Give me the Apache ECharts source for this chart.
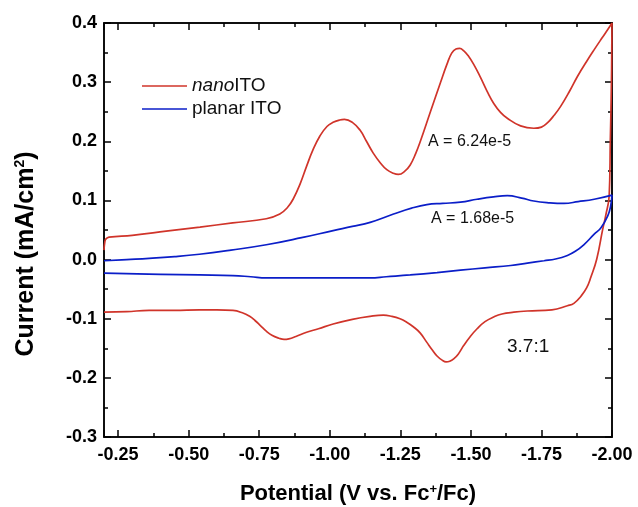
<!DOCTYPE html>
<html>
<head>
<meta charset="utf-8">
<script src="https://cdn.jsdelivr.net/npm/echarts/dist/echarts.min.js"></script>
<style>
  html, body { margin: 0; padding: 0; background: #fff; }
  #chart { width: 638px; height: 507px; }
</style>
</head>
<body>
<div id="chart"></div>
<script>
// nanoITO sweep, forward (upper) branch then return (lower) branch
var nanoFwd = [
  [-0.200, 0.016], [-0.203, 0.030], [-0.207, 0.035], [-0.218, 0.038], [-0.300, 0.041],
  [-0.420, 0.048], [-0.540, 0.055], [-0.656, 0.062], [-0.775, 0.069], [-0.823, 0.077],
  [-0.850, 0.088], [-0.870, 0.102], [-0.895, 0.128], [-0.918, 0.158], [-0.940, 0.185],
  [-0.965, 0.209], [-0.990, 0.225], [-1.012, 0.232], [-1.035, 0.236], [-1.052, 0.237],
  [-1.080, 0.232], [-1.107, 0.219], [-1.130, 0.200], [-1.154, 0.180], [-1.180, 0.163],
  [-1.202, 0.152], [-1.225, 0.146], [-1.243, 0.144], [-1.265, 0.149], [-1.285, 0.160],
  [-1.305, 0.180], [-1.321, 0.200], [-1.356, 0.249], [-1.392, 0.299], [-1.415, 0.330],
  [-1.432, 0.349], [-1.447, 0.356], [-1.460, 0.357], [-1.475, 0.353], [-1.490, 0.345],
  [-1.510, 0.330], [-1.534, 0.308], [-1.558, 0.284], [-1.581, 0.264], [-1.605, 0.249],
  [-1.629, 0.239], [-1.676, 0.226], [-1.723, 0.222], [-1.750, 0.224], [-1.771, 0.231],
  [-1.795, 0.244], [-1.818, 0.259], [-1.850, 0.285], [-1.878, 0.310], [-1.910, 0.335],
  [-1.937, 0.355], [-1.965, 0.375], [-1.985, 0.389], [-2.000, 0.400]
];
var nanoRev = [
  [-1.998, 0.300], [-1.994, 0.200], [-1.990, 0.108], [-1.978, 0.075], [-1.967, 0.051],
  [-1.946, 0.001], [-1.925, -0.030], [-1.910, -0.048], [-1.890, -0.062], [-1.865, -0.074],
  [-1.842, -0.078], [-1.787, -0.085], [-1.700, -0.087], [-1.652, -0.089], [-1.610, -0.092],
  [-1.581, -0.097], [-1.550, -0.105], [-1.522, -0.117], [-1.498, -0.130], [-1.475, -0.145],
  [-1.455, -0.160], [-1.439, -0.168], [-1.425, -0.172], [-1.412, -0.173], [-1.398, -0.170],
  [-1.380, -0.163], [-1.362, -0.152], [-1.344, -0.140], [-1.320, -0.124], [-1.297, -0.114],
  [-1.270, -0.105], [-1.249, -0.100], [-1.220, -0.096], [-1.190, -0.094], [-1.143, -0.096],
  [-1.080, -0.101], [-1.012, -0.109], [-0.960, -0.117], [-0.918, -0.123], [-0.880, -0.130],
  [-0.855, -0.134], [-0.838, -0.135], [-0.820, -0.133], [-0.795, -0.128], [-0.775, -0.121],
  [-0.755, -0.112], [-0.735, -0.103], [-0.716, -0.096], [-0.690, -0.090], [-0.657, -0.086],
  [-0.600, -0.085], [-0.538, -0.085], [-0.450, -0.086], [-0.360, -0.086], [-0.280, -0.088],
  [-0.200, -0.089]
];

// planar ITO sweep
var planarFwd = [
  [-0.200, -0.002], [-0.280, 0.000], [-0.360, 0.002], [-0.450, 0.005], [-0.538, 0.009],
  [-0.650, 0.016], [-0.775, 0.025], [-0.900, 0.037], [-1.012, 0.049], [-1.080, 0.056],
  [-1.143, 0.063], [-1.226, 0.077], [-1.290, 0.087], [-1.344, 0.093], [-1.400, 0.095],
  [-1.463, 0.097], [-1.522, 0.102], [-1.580, 0.106], [-1.629, 0.108], [-1.680, 0.104],
  [-1.723, 0.099], [-1.780, 0.096], [-1.830, 0.095], [-1.880, 0.098], [-1.937, 0.102],
  [-2.000, 0.109]
];
var planarRev = [
  [-1.995, 0.090], [-1.985, 0.074], [-1.961, 0.054], [-1.937, 0.043], [-1.900, 0.025],
  [-1.870, 0.014], [-1.842, 0.007], [-1.800, 0.001], [-1.759, -0.002], [-1.700, -0.006],
  [-1.641, -0.010], [-1.550, -0.014], [-1.463, -0.018], [-1.380, -0.022], [-1.285, -0.026],
  [-1.200, -0.029], [-1.143, -0.031], [-1.012, -0.031], [-0.900, -0.031], [-0.775, -0.031],
  [-0.720, -0.029], [-0.657, -0.027], [-0.538, -0.026], [-0.400, -0.025], [-0.200, -0.023]
];

var seriesNames = ['nanoITO', 'planar ITO'];
var notes = ['A = 6.24e-5', 'A = 1.68e-5', '3.7:1'];

var FONT = '"Liberation Sans", Arial, sans-serif';
var RED = '#d0342a';
var BLUE = '#0b1ec8';

var chart = echarts.init(document.getElementById('chart'));

// x axis: major ticks every 0.25 (labelled), minor every 0.125
function xAxisFor(position, interval, len, withLabels) {
  return {
    type: 'value',
    position: position,
    min: -2.0,
    max: -0.2,
    interval: interval,
    inverse: true,
    axisLine: { show: true, onZero: false, lineStyle: { color: '#000', width: 1.5 } },
    axisTick: { show: true, inside: true, length: len, lineStyle: { color: '#000', width: 1.5 } },
    axisLabel: {
      show: withLabels,
      margin: 9,
      color: '#000',
      fontFamily: FONT,
      fontWeight: 'bold',
      fontSize: 18,
      showMinLabel: true,
      showMaxLabel: true,
      formatter: function (v) {
        return Math.abs(v * 4 - Math.round(v * 4)) < 1e-6 ? v.toFixed(2) : '';
      }
    },
    splitLine: { show: false }
  };
}

function yAxisFor(position, interval, len, withLabels) {
  return {
    type: 'value',
    position: position,
    min: -0.3,
    max: 0.4,
    interval: interval,
    axisLine: { show: true, onZero: false, lineStyle: { color: '#000', width: 1.5 } },
    axisTick: { show: true, inside: true, length: len, lineStyle: { color: '#000', width: 1.5 } },
    axisLabel: {
      show: withLabels,
      margin: 7,
      color: '#000',
      fontFamily: FONT,
      fontWeight: 'bold',
      fontSize: 18,
      formatter: function (v) { return v.toFixed(1); }
    },
    splitLine: { show: false }
  };
}

chart.setOption({
  animation: false,
  backgroundColor: '#fff',
  grid: { left: 104, right: 26, top: 23, bottom: 70, containLabel: false },
  xAxis: [
    xAxisFor('bottom', 0.25, 7, true),
    xAxisFor('bottom', 0.125, 4, false),
    xAxisFor('top', 0.25, 7, false),
    xAxisFor('top', 0.125, 4, false)
  ],
  yAxis: [
    yAxisFor('left', 0.1, 7, true),
    yAxisFor('left', 0.05, 4, false),
    yAxisFor('right', 0.1, 7, false),
    yAxisFor('right', 0.05, 4, false)
  ],
  legend: {
    orient: 'vertical',
    left: 137,
    top: 71,
    icon: 'rect',
    itemWidth: 45,
    itemHeight: 1.6,
    itemGap: 3,
    data: seriesNames,
    formatter: function (name) {
      return name === 'nanoITO' ? '{i|nano}{n|ITO}' : '{n|' + name + '}';
    },
    textStyle: {
      color: '#111',
      fontFamily: FONT,
      fontSize: 19,
      lineHeight: 20,
      rich: {
        i: { fontFamily: FONT, fontSize: 19, fontStyle: 'italic', color: '#111' },
        n: { fontFamily: FONT, fontSize: 19, color: '#111' }
      }
    }
  },
  series: [
    {
      name: seriesNames[0],
      type: 'line',
      xAxisIndex: 0,
      yAxisIndex: 0,
      showSymbol: false,
      symbol: 'none',
      smooth: 0.45,
      color: RED,
      lineStyle: { color: RED, width: 1.7 },
      data: nanoFwd.concat(nanoRev)
    },
    {
      name: seriesNames[1],
      type: 'line',
      xAxisIndex: 0,
      yAxisIndex: 0,
      showSymbol: false,
      symbol: 'none',
      smooth: 0.45,
      color: BLUE,
      lineStyle: { color: BLUE, width: 1.7 },
      data: planarFwd.concat(planarRev)
    }
  ],
  graphic: [
    {
      type: 'text',
      left: 428,
      top: 134,
      style: { text: notes[0], fill: '#111', font: '16px ' + FONT }
    },
    {
      type: 'text',
      left: 431,
      top: 211,
      style: { text: notes[1], fill: '#111', font: '16px ' + FONT }
    },
    {
      type: 'text',
      left: 507,
      top: 337,
      style: { text: notes[2], fill: '#111', font: '19px ' + FONT }
    },
    {
      type: 'text',
      x: 358,
      y: 494,
      style: {
        text: '{t|Potential (V vs. Fc}{s|+}{t|/Fc)}',
        align: 'center',
        verticalAlign: 'middle',
        rich: {
          t: { fontFamily: FONT, fontWeight: 'bold', fontSize: 22, fill: '#000' },
          s: { fontFamily: FONT, fontWeight: 'bold', fontSize: 13, fill: '#000', padding: [0, 0, 10, 0] }
        }
      }
    },
    {
      type: 'text',
      x: 26,
      y: 254,
      rotation: Math.PI / 2,
      style: {
        text: '{t|Current (mA/cm}{s|2}{t|)}',
        align: 'center',
        verticalAlign: 'middle',
        rich: {
          t: { fontFamily: FONT, fontWeight: 'bold', fontSize: 25, fill: '#000' },
          s: { fontFamily: FONT, fontWeight: 'bold', fontSize: 14, fill: '#000', padding: [0, 0, 12, 0] }
        }
      }
    }
  ]
});
</script>
</body>
</html>
